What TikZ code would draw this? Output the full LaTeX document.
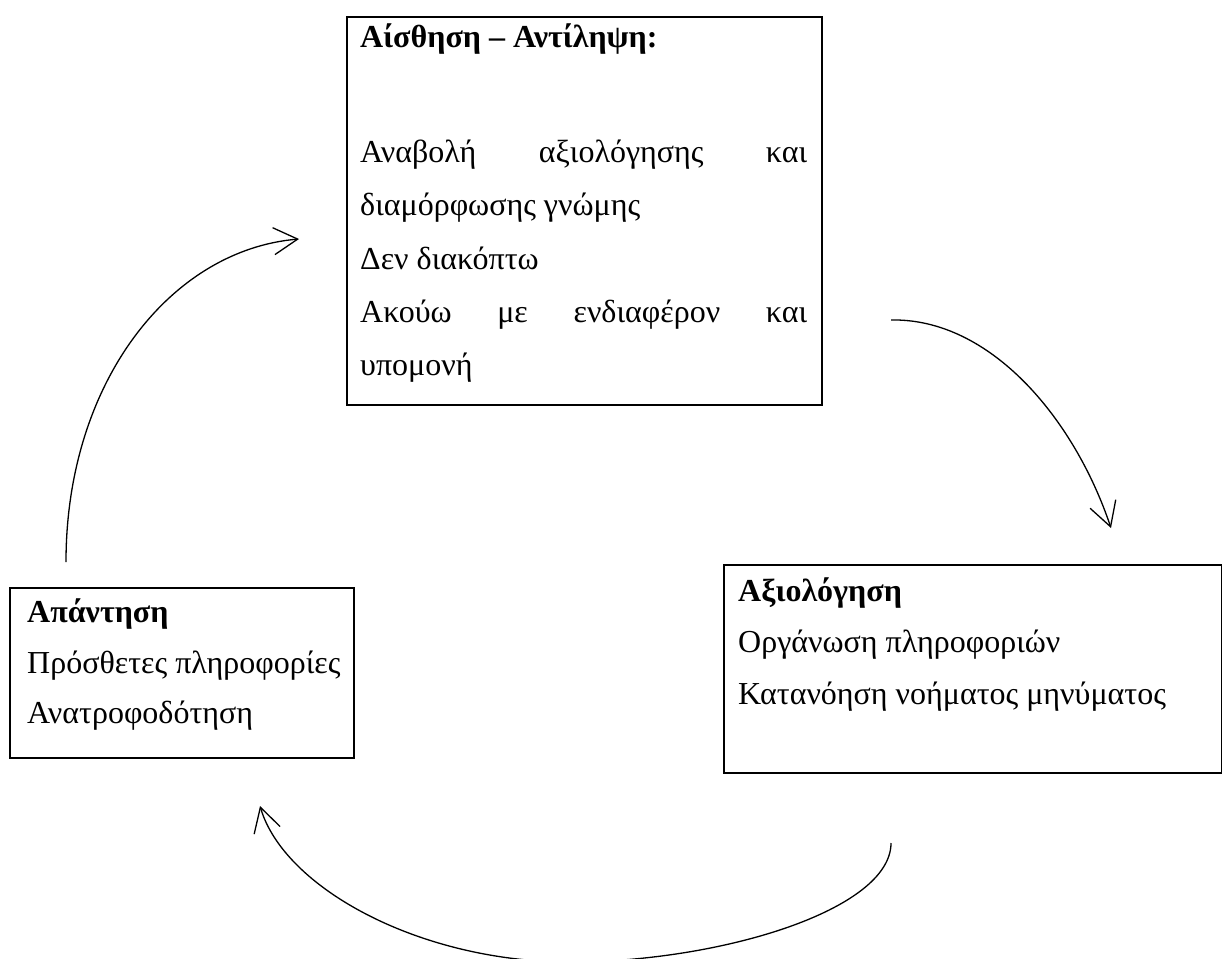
\documentclass[tikz,border=0pt]{standalone}
\usepackage{fontspec}
\setmainfont{Liberation Serif}
\usetikzlibrary{arrows.meta}
\begin{document}
\begin{tikzpicture}[x=1pt,y=-1pt,
  box/.style={draw, line width=1.8pt, inner sep=0pt, anchor=north west},
  txt/.style={anchor=base west, inner sep=0pt, font=\fontsize{32}{38}\selectfont},
  ttl/.style={anchor=base west, inner sep=0pt, font=\fontsize{32}{38}\selectfont\bfseries},
  flow/.style={line width=1.3pt, -{Straight Barb[length=24pt,width=27pt]}}]
\useasboundingbox (0,0) rectangle (1222,958);
\clip (0,0) rectangle (1222,958);
% boxes
\node[box, minimum width=475pt, minimum height=388pt] (top) at (346,16) {};
\node[box, minimum width=344pt, minimum height=170pt] (resp) at (9,587) {};
\node[box, minimum width=498pt, minimum height=208pt] (eval) at (723,564) {};
% top box text
\node[ttl] (t0) at (360,48) {Αίσθηση – Αντίληψη:};
\node[txt] (t1) at (360,162) {\makebox[447pt][s]{Αναβολή αξιολόγησης και}};
\node[txt] (t2) at (360,215) {διαμόρφωσης γνώμης};
\node[txt] (t3) at (360,269) {Δεν διακόπτω};
\node[txt] (t4) at (360,322) {\makebox[447pt][s]{Ακούω με ενδιαφέρον και}};
\node[txt] (t5) at (360,375) {υπομονή};
% left box text
\node[ttl] (r0) at (27,622) {Απάντηση};
\node[txt] (r1) at (27,673) {Πρόσθετες πληροφορίες};
\node[txt] (r2) at (27,723) {Ανατροφοδότηση};
% right box text
\node[ttl] (e0) at (738,601) {Αξιολόγηση};
\node[txt] (e1) at (738,652) {Οργάνωση πληροφοριών};
\node[txt] (e2) at (738,704) {Κατανόηση νοήματος μηνύματος};
% connector end points
\coordinate (a1s) at (66,562);
\coordinate (a1e) at (299,239);
\coordinate (a2s) at (891,320);
\coordinate (a2e) at (1111,528);
\coordinate (a3s) at (891,843);
\coordinate (a3m) at (570,962);
\coordinate (a3e) at (260,806);
% connectors
\draw[flow] (a1s) .. controls (66,383) and (170,250) .. (a1e);
\draw[flow] (a2s) .. controls (990,318) and (1074,418) .. (a2e);
\draw[flow] (a3s) .. controls (891,910) and (720,962) .. (a3m)
               .. controls (420,962) and (284,888) .. (a3e);
\end{tikzpicture}
\end{document}
